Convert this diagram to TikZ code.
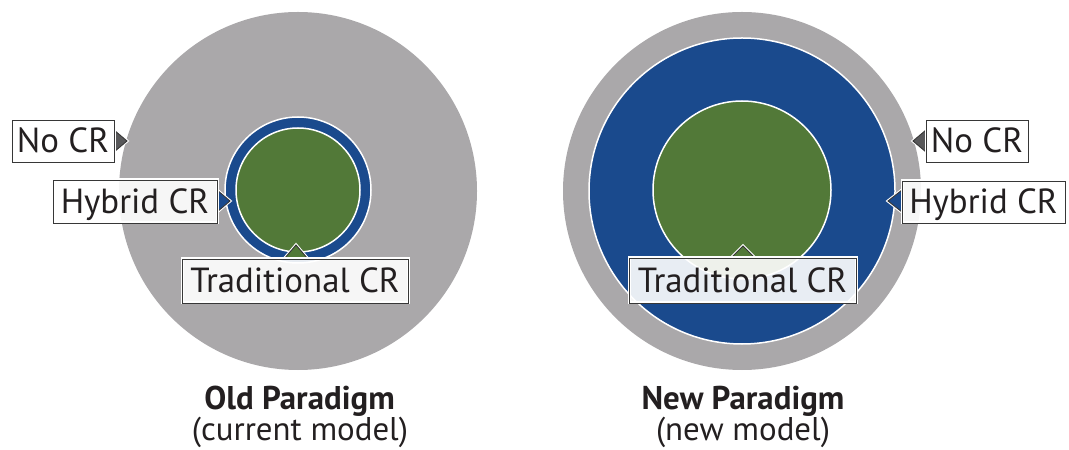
\documentclass[tikz,border=0pt]{standalone}
\usepackage{fontspec}
\setmainfont{PT Sans}
\usetikzlibrary{calc}
\definecolor{crgray}{RGB}{170,168,170}
\definecolor{crblue}{RGB}{26,74,141}
\definecolor{crgreen}{RGB}{82,121,56}
\definecolor{ptrgray}{RGB}{88,88,90}
\definecolor{txt}{RGB}{35,31,32}
\definecolor{edge}{RGB}{55,55,55}
\begin{document}
\begin{tikzpicture}[x=1bp,y=-1bp,
  zone/.style={circle, inner sep=0, draw=white, line width=1.5bp},
  lbl/.style={draw=edge, line width=0.9bp, fill=white, fill opacity=0.9, text opacity=1,
    text=txt, inner sep=0, text height=24bp, text depth=0bp,
    font=\fontsize{35}{37}\selectfont,
    preaction={draw=white, line width=3bp}},
  ptr/.style={draw=edge, line width=0.9bp, line join=miter,
    preaction={draw=white, line width=3bp}},
  title/.style={text=txt, inner sep=0, anchor=base, font=\fontsize{33}{35}\selectfont\bfseries},
  sub/.style={text=txt, inner sep=0, anchor=base, font=\fontsize{33}{35}\selectfont}]
\useasboundingbox (0,0) rectangle (1069,450);

% ---- Old paradigm circles
\node[zone, draw=none, fill=crgray, minimum size=358bp] (oldNo) at (298,191) {};
\node[zone, fill=crblue, minimum size=146bp] (oldHy) at (298,190) {};
\node[zone, fill=crgreen, minimum size=124bp] (oldTr) at (298,190) {};

% ---- New paradigm circles
\node[zone, draw=none, fill=crgray, minimum size=358bp] (newNo) at (742,191) {};
\node[zone, fill=crblue, minimum size=306bp] (newHy) at (742,191) {};
\node[zone, fill=crgreen, minimum size=178bp] (newTr) at (742,190) {};

% ---- pointer tips
\coordinate (tOldNo) at (127,141);
\coordinate (tOldHy) at (230,201);
\coordinate (tOldTr) at (296,245);
\coordinate (tNewNo) at (913,141);
\coordinate (tNewHy) at (888,201);
\coordinate (tNewTr) at (743,246);

% ---- pointers (drawn beneath the boxes)
\draw[ptr, fill=ptrgray] (114,130) -- (tOldNo) -- (114,152);
\draw[ptr, fill=crblue]  (217,190) -- (tOldHy) -- (217,212);
\draw[ptr, fill=crgreen] (284,259) -- (tOldTr) -- (308,259);
\draw[ptr, fill=ptrgray] (926,130) -- (tNewNo) -- (926,152);
\draw[ptr, fill=crblue]  (902,190) -- (tNewHy) -- (902,212);
\draw[ptr, fill=crgreen] (731,258) -- (tNewTr) -- (755,258);

% ---- label boxes
\node[lbl, minimum width=102bp, minimum height=42bp] (lOldNo) at (63,141) {No CR};
\node[lbl, minimum width=164bp, minimum height=43bp] (lOldHy) at (135,201.5) {Hybrid CR};
\node[lbl, minimum width=226bp, minimum height=44bp] (lOldTr) at (295,281) {Traditional CR};
\node[lbl, minimum width=102bp, minimum height=42bp] (lNewNo) at (977,141) {No CR};
\node[lbl, minimum width=163bp, minimum height=42bp] (lNewHy) at (983.5,202) {Hybrid CR};
\node[lbl, minimum width=227bp, minimum height=45bp] (lNewTr) at (742.5,280.5) {Traditional CR};

% ---- captions
\node[title] (capOld) at (299.5,410) {Old Paradigm};
\node[sub] (subOld) at (300,440) {(current model)};
\node[title] (capNew) at (743,410) {New Paradigm};
\node[sub] (subNew) at (743,440) {(new model)};
\end{tikzpicture}
\end{document}
